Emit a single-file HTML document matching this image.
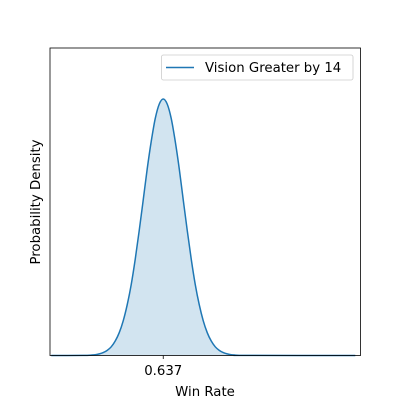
<!DOCTYPE html>
<html><head><meta charset="utf-8"><style>
body{margin:0;background:#fff;}
svg text{font-family:"DejaVu Sans","Liberation Sans",sans-serif;fill:#000;}
</style></head><body>
<svg id="chart" width="400" height="400" viewBox="0 0 400 400" xmlns="http://www.w3.org/2000/svg">
<rect width="400" height="400" fill="#fff"/>
<g id="plot"></g>
<rect x="50" y="48" width="310.5" height="307.5" fill="none" stroke="#000" stroke-width="0.8"/>
<g id="xticks"></g>
<text x="205" y="396" font-size="13.3" text-anchor="middle">Win Rate</text>
<text transform="translate(40,202) rotate(-90)" font-size="13.3" text-anchor="middle">Probability Density</text>
<g>
<rect x="161.5" y="55" width="191.5" height="25" rx="2" fill="#fff" fill-opacity="0.8" stroke="#ccc" stroke-width="0.8"/>
<line x1="166" y1="67.5" x2="194" y2="67.5" stroke="#1f77b4" stroke-width="1.5"/>
<text x="205" y="72" font-size="13.3">Vision Greater by 14</text>
</g>
</svg>
<script>
const winRate=[0.497,0.537,0.542,0.547,0.552,0.557,0.562,0.567,0.572,0.577,0.582,0.587,0.592,0.597,0.602,0.607,0.612,0.617,0.622,0.627,0.632,0.637,0.642,0.647,0.652,0.657,0.662,0.667,0.672,0.677,0.682,0.687,0.692,0.697,0.702,0.707,0.712,0.717,0.722,0.727,0.732,0.737,0.877];
const density=[0,0.005,0.01,0.025,0.05,0.10,0.18,0.32,0.54,0.90,1.42,2.16,3.16,4.42,5.99,7.78,9.68,11.62,13.32,14.74,15.64,15.96,15.64,14.74,13.32,11.62,9.68,7.78,5.99,4.42,3.16,2.16,1.42,0.90,0.54,0.32,0.18,0.10,0.05,0.025,0.01,0.005,0];
const xTicks=[0.637];
const xTickLabels=["0.637"];
const xDomain=[0.4955,0.8835], yDomain=[0,19.13];
const X=v=>50+(v-xDomain[0])/(xDomain[1]-xDomain[0])*310.5;
const Y=v=>355.5-(v-yDomain[0])/(yDomain[1]-yDomain[0])*307.5;
const ns="http://www.w3.org/2000/svg";
const plot=document.getElementById('plot');
const pts=winRate.map((w,i)=>[X(w),Y(density[i])]);
let d='M'+pts[0][0].toFixed(2)+','+pts[0][1].toFixed(2);
for(let i=0;i<pts.length-1;i++){
 const p0=pts[Math.max(0,i-1)],p1=pts[i],p2=pts[i+1],p3=pts[Math.min(pts.length-1,i+2)];
 const c1x=p1[0]+(p2[0]-p0[0])/6,c1y=p1[1]+(p2[1]-p0[1])/6;
 const c2x=p2[0]-(p3[0]-p1[0])/6,c2y=p2[1]-(p3[1]-p1[1])/6;
 d+='C'+c1x.toFixed(2)+','+Math.min(c1y,355.5).toFixed(2)+' '+c2x.toFixed(2)+','+Math.min(c2y,355.5).toFixed(2)+' '+p2[0].toFixed(2)+','+p2[1].toFixed(2);
}
const area=document.createElementNS(ns,'path');
area.setAttribute('d',d+'L'+X(winRate[winRate.length-1])+','+Y(0)+'L'+X(winRate[0])+','+Y(0)+'Z');
area.setAttribute('fill','#1f77b4');area.setAttribute('fill-opacity','0.2');


plot.appendChild(area);
const line=document.createElementNS(ns,'path');
line.setAttribute('d',d);line.setAttribute('fill','none');line.setAttribute('stroke','#1f77b4');line.setAttribute('stroke-width','1.5');line.setAttribute('stroke-linejoin','round');


plot.appendChild(line);
const xt=document.getElementById('xticks');
xTicks.forEach((t,i)=>{
 const l=document.createElementNS(ns,'line');
 l.setAttribute('x1',X(t));l.setAttribute('x2',X(t));l.setAttribute('y1',355.5);l.setAttribute('y2',359);l.setAttribute('stroke','#000');l.setAttribute('stroke-width','0.8');
 
 
 xt.appendChild(l);
 const tx=document.createElementNS(ns,'text');
 tx.setAttribute('x',X(t));tx.setAttribute('y',375);tx.setAttribute('font-size','13.3');tx.setAttribute('text-anchor','middle');
 tx.textContent=xTickLabels[i];
 
 
 xt.appendChild(tx);
});
</script>
</body></html>
